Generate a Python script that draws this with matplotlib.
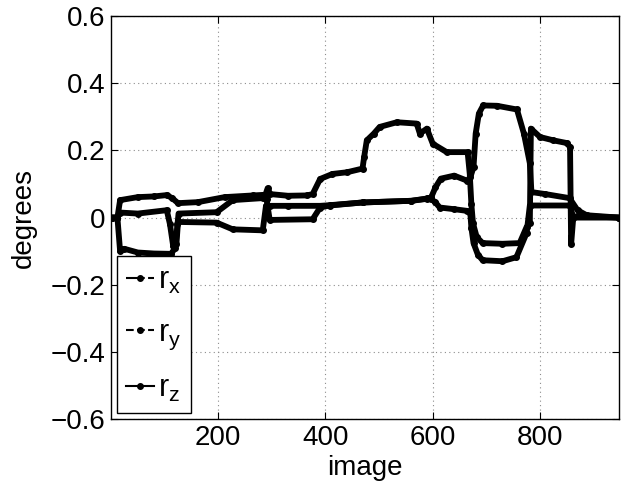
import numpy as np
import matplotlib
matplotlib.use("Agg")
import matplotlib.pyplot as plt

plt.rcParams['font.family'] = ['Liberation Sans', 'DejaVu Sans']
plt.rcParams['mathtext.default'] = 'regular'

# rotation about x: starts near zero, hump up to ~0.33 around image 700
rx_img = [1, 12, 17, 50, 104, 110, 116, 122, 125, 197, 227, 283, 289, 296,
          330, 390, 408, 469, 560, 590, 597, 605, 615, 640, 664, 670, 676,
          680, 686, 694, 720, 757, 770, 781, 784, 810, 855, 870, 887, 947]
rx_deg = [0.0, 0.0, 0.015, 0.012, 0.022, -0.02, -0.085, -0.08, -0.013, -0.015,
          -0.035, -0.038, 0.035, 0.035, 0.035, 0.035, 0.037, 0.045, 0.05, 0.057,
          0.06, 0.09, 0.116, 0.125, 0.11, 0.12, 0.15, 0.25, 0.31, 0.334,
          0.333, 0.322, 0.25, 0.162, 0.076, 0.07, 0.058, 0.022, 0.007, 0.0]

# rotation about y: the big upper curve, dashed jumps near the end
ry_img = [1, 12, 17, 50, 80, 104, 114, 125, 162, 212, 265, 288, 292, 297,
          330, 365, 376, 390, 413, 440, 469, 472, 477, 490, 501, 533, 570,
          576, 589, 600, 626, 665, 669, 672, 675, 682, 693, 730, 762, 775,
          781, 783, 800, 825, 850, 856, 858, 862, 870, 947]
ry_deg = [0.0, 0.0, 0.052, 0.061, 0.063, 0.067, 0.058, 0.043, 0.046, 0.061,
          0.066, 0.068, 0.087, 0.07, 0.065, 0.066, 0.07, 0.115, 0.13, 0.135,
          0.146, 0.18, 0.23, 0.25, 0.27, 0.284, 0.28, 0.25, 0.265, 0.22,
          0.195, 0.195, 0.13, 0.04, -0.017, -0.058, -0.076, -0.078, -0.076,
          -0.028, -0.017, 0.265, 0.24, 0.23, 0.222, 0.21, -0.08, 0.0, 0.005, 0.0]

# rotation about z: dips to -0.11 at the start and -0.13 near image 700
rz_img = [1, 12, 17, 25, 50, 80, 112, 120, 124, 126, 197, 227, 283, 290, 296,
          376, 390, 408, 469, 560, 590, 597, 605, 613, 640, 664, 670, 672,
          676, 684, 693, 730, 756, 775, 781, 782, 856, 862, 947]
rz_deg = [0.0, 0.0, -0.1, -0.093, -0.104, -0.107, -0.108, -0.09, -0.02, 0.012,
          0.016, 0.052, 0.058, 0.055, -0.007, -0.005, 0.03, 0.036, 0.045, 0.05,
          0.056, 0.056, 0.045, 0.03, 0.025, 0.02, 0.014, -0.03, -0.076, -0.11,
          -0.127, -0.13, -0.118, -0.046, 0.036, 0.036, 0.036, 0.0, 0.0]

series = [
    (rx_img, rx_deg, '-.', '$r_x$'),
    (ry_img, ry_deg, '--', '$r_y$'),
    (rz_img, rz_deg, '-', '$r_z$'),
]

fig = plt.figure(figsize=(6.27, 4.91), dpi=100)
ax = fig.add_axes([0.177, 0.1466, 0.81, 0.8205])

for img, deg, ls, lab in series:
    # dense per-image markers in the original make the curves look thick
    ax.plot(img, deg, '-', color='k', lw=4.2, solid_capstyle='round',
            solid_joinstyle='round', label='_nolegend_')
    ax.plot(img, deg, ls, color='k', lw=1.5, marker='.', markersize=8,
            label=lab)

ax.set_xlim(0, 947)
ax.set_ylim(-0.6, 0.6)
ax.set_xticks([200, 400, 600, 800])
ax.set_yticks([-0.6, -0.4, -0.2, 0, 0.2, 0.4, 0.6])
ax.set_yticklabels(['\u22120.6', '\u22120.4', '\u22120.2', '0', '0.2', '0.4', '0.6'])
ax.tick_params(direction='in', top=True, right=True, length=5, width=0.8,
               labelsize=20, pad=4)
ax.grid(True, linestyle=(0, (1, 3)), color='0.55', lw=0.8)
for s in ax.spines.values():
    s.set_linewidth(1.0)

ax.set_xlabel('image', fontsize=20, labelpad=3)
ax.set_ylabel('degrees', fontsize=20, labelpad=10)

leg = ax.legend(loc='lower left', fontsize=22, frameon=True, fancybox=False,
                edgecolor='k', framealpha=1, borderaxespad=0.2,
                handlelength=0.9, handletextpad=0.15, labelspacing=0.72,
                borderpad=0.3, numpoints=1)
leg.get_frame().set_linewidth(1.0)

fig.savefig('out.png', dpi=100)
